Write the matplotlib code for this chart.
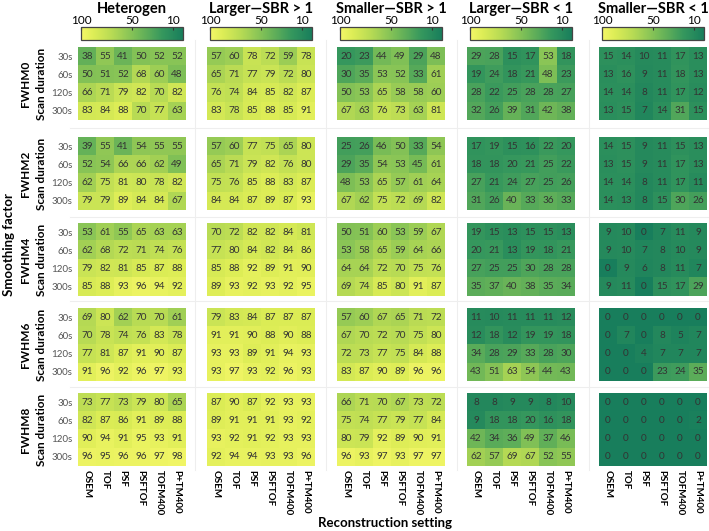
import numpy as np
import matplotlib
matplotlib.use("Agg")
import matplotlib.pyplot as plt
from matplotlib.colors import LinearSegmentedColormap, Normalize
from matplotlib.cm import ScalarMappable
from matplotlib.lines import Line2D

plt.rcParams['font.family'] = ['Lato', 'DejaVu Sans']

columns = ["Heterogen", "Larger\u2014SBR > 1", "Smaller\u2014SBR > 1", "Larger\u2014SBR < 1", "Smaller\u2014SBR < 1"]
smoothing = ["FWHM0", "FWHM2", "FWHM4", "FWHM6", "FWHM8"]
durations = ["30s", "60s", "120s", "300s"]
recon = ["OSEM", "TOF", "PSF", "PSFTOF", "TOFM400", "P+TM400"]
cbar_ticks = [100, 50, 10]

heterogen = [
    [[38,55,41,50,52,52],[50,51,52,68,60,48],[66,71,79,82,70,82],[83,84,88,70,77,63]],
    [[39,55,41,54,55,55],[52,54,66,66,62,49],[62,75,81,80,78,82],[79,79,89,84,84,67]],
    [[53,61,55,65,63,63],[62,68,72,71,74,76],[79,82,81,85,87,88],[85,88,93,96,94,92]],
    [[69,80,62,70,70,61],[70,78,74,76,83,78],[77,81,87,91,90,87],[91,96,92,96,97,93]],
    [[73,77,73,79,80,65],[82,87,86,91,89,88],[90,94,91,95,93,91],[96,95,96,96,97,98]],
]
larger_gt1 = [
    [[57,60,78,72,59,78],[65,71,77,79,72,80],[76,74,84,85,82,87],[83,78,85,88,85,91]],
    [[57,60,77,75,65,80],[65,71,79,82,76,80],[75,76,85,88,83,87],[84,84,87,89,87,93]],
    [[70,72,82,82,84,81],[77,80,84,82,84,86],[85,88,92,89,91,90],[89,93,92,93,92,95]],
    [[79,83,84,87,87,87],[91,91,90,88,90,88],[93,93,89,91,94,93],[93,97,93,92,96,93]],
    [[87,90,87,92,93,93],[89,91,91,91,93,92],[93,92,91,92,93,93],[92,94,94,93,93,96]],
]
smaller_gt1 = [
    [[20,23,44,49,29,48],[30,35,53,52,33,61],[50,53,65,58,58,60],[67,63,76,73,63,81]],
    [[25,26,46,50,33,54],[29,35,54,53,45,61],[48,53,65,57,61,64],[67,62,75,72,69,82]],
    [[50,51,60,53,59,67],[53,58,65,59,64,66],[64,64,72,70,75,76],[69,74,85,80,91,87]],
    [[57,60,67,65,71,72],[67,70,72,70,75,80],[72,73,77,75,84,88],[83,87,90,89,96,96]],
    [[66,71,70,67,73,72],[75,74,77,79,77,84],[80,79,92,89,90,91],[96,93,97,93,97,97]],
]
larger_lt1 = [
    [[29,28,15,17,53,18],[19,24,18,21,48,23],[28,22,25,28,28,27],[32,26,39,31,42,38]],
    [[17,19,15,16,22,20],[18,18,20,21,25,22],[27,21,24,27,25,26],[31,26,40,33,36,33]],
    [[19,15,13,15,15,13],[20,21,13,19,18,21],[27,25,25,30,28,28],[35,37,40,38,35,34]],
    [[11,10,11,11,11,12],[12,18,12,19,19,18],[34,28,29,33,28,30],[43,51,63,54,44,43]],
    [[8,8,9,9,8,10],[9,18,18,20,16,18],[42,34,36,49,37,46],[62,57,69,67,52,55]],
]
smaller_lt1 = [
    [[15,14,10,11,17,13],[13,16,9,11,18,13],[14,14,8,11,17,12],[13,15,7,14,31,15]],
    [[14,15,9,11,15,13],[13,15,9,11,17,13],[14,14,8,11,17,11],[14,13,8,15,30,26]],
    [[9,10,0,7,11,9],[9,10,7,8,10,9],[0,9,6,8,11,7],[9,11,0,15,17,29]],
    [[0,0,0,0,0,0],[0,7,0,8,5,7],[0,0,4,7,7,7],[0,0,0,23,24,35]],
    [[0,0,0,0,0,0],[0,0,0,0,0,2],[0,0,0,0,0,0],[0,0,0,0,0,0]],
]
datasets = [heterogen, larger_gt1, smaller_gt1, larger_lt1, smaller_lt1]

cmap = LinearSegmentedColormap.from_list(
    "yg", [(0.0, "#187e5c"), (0.2, "#35975d"), (0.45, "#76bb57"),
           (0.7, "#b8db54"), (0.88, "#dded56"), (1.0, "#f4f768")])
norm = Normalize(vmin=0, vmax=100)

W, H = 709, 531
fig = plt.figure(figsize=(W/100, H/100), dpi=100)
fig.patch.set_facecolor("white")

def rect(l, t, w, h):
    return [l/W, 1-(t+h)/H, w/W, h/H]

col_left = [78, 207, 337, 467, 599]
row_top = [47, 137, 223, 308, 393]
pw, ph = 108, 73

# faint separators
for x in [195, 326, 457, 589]:
    fig.add_artist(Line2D([x/W, x/W], [1-40/H, 1-470/H], color="#eeeeee", lw=0.8))
for y in [128, 217, 301, 387]:
    fig.add_artist(Line2D([70/W, 708/W], [1-y/H, 1-y/H], color="#eeeeee", lw=0.8))

for j, col in enumerate(columns):
    # colorbar
    cax = fig.add_axes(rect(col_left[j]+3, 27, pw-6, 13))
    sm = ScalarMappable(norm=norm, cmap=cmap)
    cb = fig.colorbar(sm, cax=cax, orientation="horizontal", ticks=cbar_ticks)
    cax.set_xlim(100, 0)
    cax.xaxis.set_ticks_position("top")
    cax.tick_params(axis="x", length=2.5, width=0.8, pad=1, labelsize=8.5, color="#333333",
                    direction="in")
    cb.set_ticklabels([str(t) for t in cbar_ticks])
    cb.outline.set_edgecolor("#444444")
    cb.outline.set_linewidth(0.9)
    fig.text((col_left[j]+pw/2)/W, 1-9/H, col, ha="center", va="center",
             fontsize=10.5, fontweight="bold")
    for i, sm_name in enumerate(smoothing):
        ax = fig.add_axes(rect(col_left[j], row_top[i], pw, ph))
        arr = np.array(datasets[j][i])
        ax.imshow(arr, cmap=cmap, norm=norm, aspect="auto", interpolation="nearest")
        for r in range(arr.shape[0]):
            for c in range(arr.shape[1]):
                ax.text(c, r, str(arr[r, c]), ha="center", va="center",
                        fontsize=7.2, color="#333333")
        for s in ax.spines.values():
            s.set_visible(False)
        ax.tick_params(length=0)
        if j == 0:
            ax.set_yticks(range(len(durations)))
            ax.set_yticklabels(durations, fontsize=7, color="#555555")
            ax.tick_params(axis="y", pad=4)
            ax.set_ylabel("Scan duration", fontsize=8.5, fontweight="bold", labelpad=3)
            fig.text(25/W, 1-(row_top[i]+ph/2)/H, sm_name, rotation=90, ha="center",
                     va="center", fontsize=8.5, fontweight="bold")
        else:
            ax.set_yticks([])
        if i == len(smoothing)-1:
            ax.set_xticks(range(len(recon)))
            ax.set_xticklabels(recon, rotation=270, fontsize=7, fontweight="bold")
            ax.tick_params(axis="x", pad=3)
        else:
            ax.set_xticks([])

fig.text(9/W, 1-245/H, "Smoothing factor", rotation=90, ha="center", va="center",
         fontsize=9.5, fontweight="bold")
fig.text(385/W, 1-523/H, "Reconstruction setting", ha="center", va="center",
         fontsize=9.5, fontweight="bold")

fig.savefig("out.png", dpi=100)
